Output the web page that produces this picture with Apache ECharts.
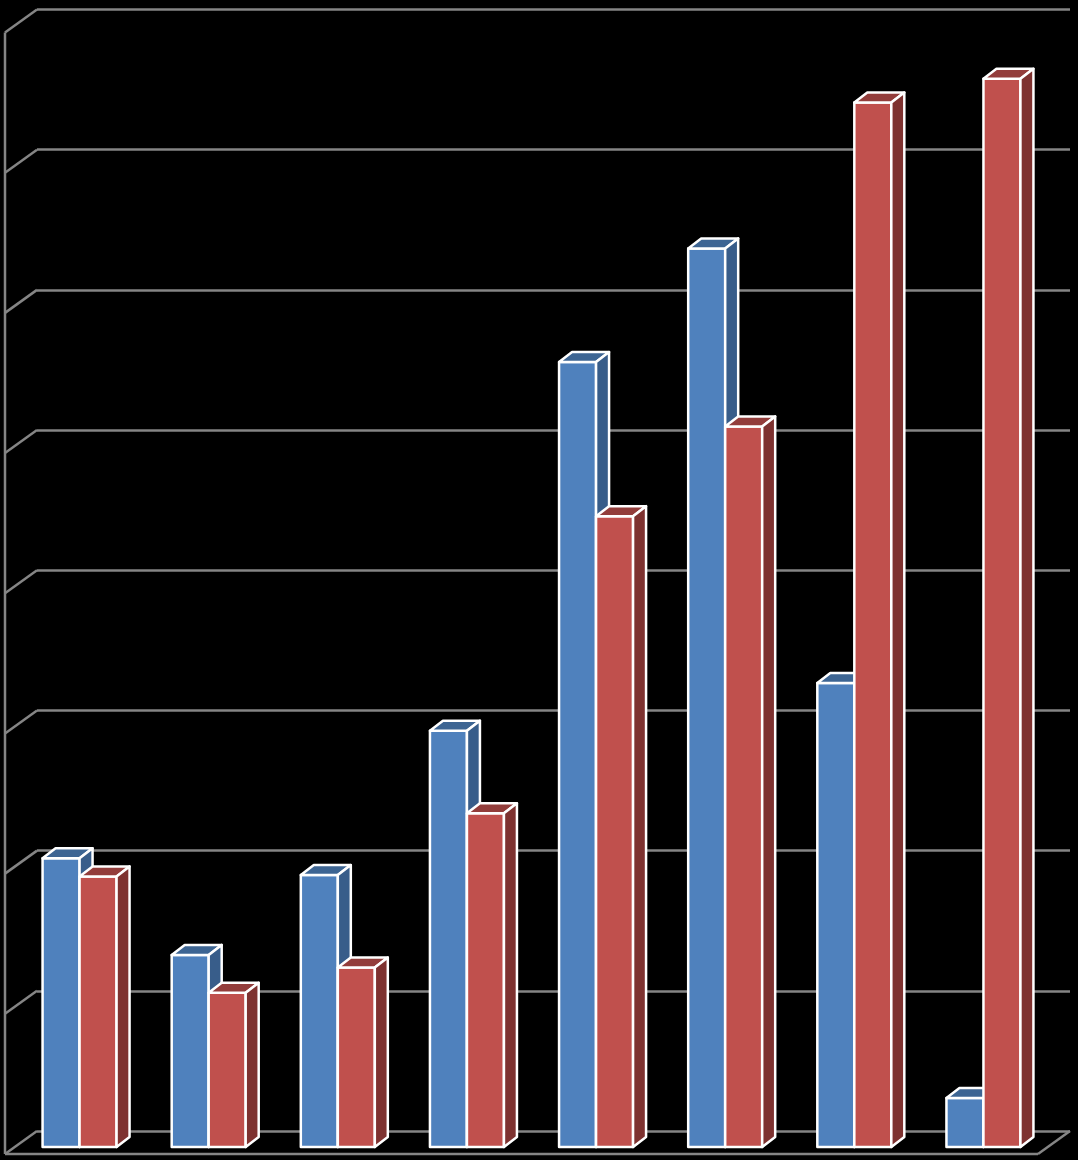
<!DOCTYPE html>
<html>
<head>
<meta charset="utf-8">
<script src="https://cdn.jsdelivr.net/npm/echarts@6/dist/echarts.min.js"></script>
<style>
  html, body { margin: 0; padding: 0; background: #000; }
  #main { width: 1078px; height: 1160px; }
</style>
</head>
<body>
<div id="main"></div>
<script>
// data
var categories = ['1', '2', '3', '4', '5', '6', '7', '8'];
var blueValues = [206, 137, 194, 297, 560, 641, 331, 35];
var redValues = [193, 110, 128, 238, 450, 514, 745, 762];
var tickValues = [0, 100, 200, 300, 400, 500, 600, 700, 800];

// pseudo 3d settings
var wallDx = -32, wallDy = 23;   // back wall -> front edge of floor
var barDx = -22, barDy = 16;     // back wall -> front face of bars
var depthDx = 13, depthDy = -10; // bar thickness
var barW = 37;

function barRenderer(offset, front, topC, sideC) {
  return function (params, api) {
    var cat = api.value(0), v = api.value(1);
    var base = api.coord([cat, 0]);
    var top = api.coord([cat, v]);
    var x = base[0] + barDx + offset;
    var y = top[1] + barDy;
    var h = base[1] - top[1];
    var st = { stroke: '#fff', lineWidth: 2.5, lineJoin: 'round' };
    return {
      type: 'group',
      children: [
        { type: 'rect', shape: { x: x, y: y, width: barW, height: h },
          style: Object.assign({ fill: front }, st) },
        { type: 'polygon', shape: { points: [[x, y], [x + depthDx, y + depthDy], [x + barW + depthDx, y + depthDy], [x + barW, y]] },
          style: Object.assign({ fill: topC }, st) },
        { type: 'polygon', shape: { points: [[x + barW, y], [x + barW + depthDx, y + depthDy], [x + barW + depthDx, y + h + depthDy], [x + barW, y + h]] },
          style: Object.assign({ fill: sideC }, st) }
      ]
    };
  };
}

function frameRenderer(params, api) {
  var cs = params.coordSys;
  var v = api.value(1);
  var y = api.coord([0, v])[1];
  var line = { stroke: '#858585', lineWidth: 2.5 };
  var kids = [
    { type: 'line', shape: { x1: cs.x, y1: y, x2: cs.x + wallDx, y2: y + wallDy }, style: line }
  ];
  if (params.dataIndex === 0) {
    var yTop = api.coord([0, tickValues[tickValues.length - 1]])[1];
    var right = cs.x + cs.width;
    kids.push(
      { type: 'line', shape: { x1: cs.x + wallDx, y1: yTop + wallDy, x2: cs.x + wallDx, y2: y + wallDy }, style: line },
      { type: 'line', shape: { x1: cs.x + wallDx, y1: y + wallDy, x2: right + wallDx, y2: y + wallDy }, style: line },
      { type: 'line', shape: { x1: right, y1: y, x2: right + wallDx, y2: y + wallDy }, style: line }
    );
  }
  return { type: 'group', children: kids };
}

var chart = echarts.init(document.getElementById('main'));
chart.setOption({
  backgroundColor: '#000',
  animation: false,
  grid: { left: 37, right: 8, top: 9.5, bottom: 29 },
  xAxis: {
    type: 'category',
    data: categories,
    axisLine: { show: false },
    axisTick: { show: false },
    axisLabel: { show: false }
  },
  yAxis: {
    type: 'value',
    min: 0,
    max: 800,
    interval: 100,
    axisLine: { show: false },
    axisTick: { show: false },
    axisLabel: { show: false },
    splitLine: { show: true, lineStyle: { color: '#858585', width: 2.5 } }
  },
  series: [
    {
      type: 'custom',
      clip: false,
      z: 1,
      renderItem: frameRenderer,
      data: tickValues.map(function (t) { return [0, t]; })
    },
    {
      type: 'custom',
      clip: false,
      z: 2,
      renderItem: barRenderer(-barW, '#4F81BD', '#3D6593', '#385D8A'),
      data: blueValues.map(function (v, i) { return [i, v]; })
    },
    {
      type: 'custom',
      clip: false,
      z: 3,
      renderItem: barRenderer(0, '#C0504D', '#933D3B', '#7E3230'),
      data: redValues.map(function (v, i) { return [i, v]; })
    }
  ]
});
</script>
</body>
</html>
